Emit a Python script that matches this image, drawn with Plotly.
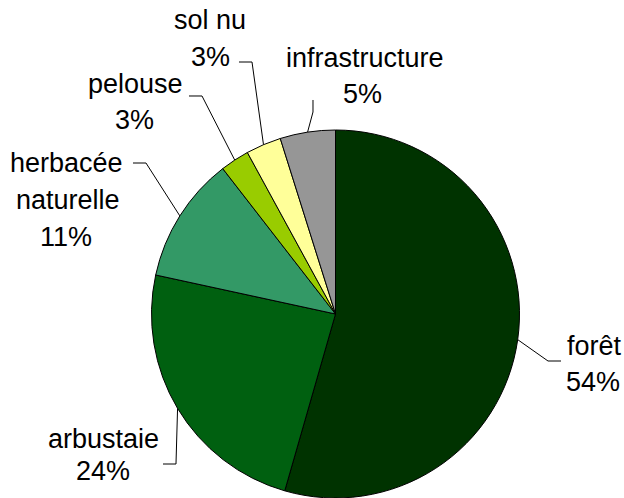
import math
import plotly.graph_objects as go

# ---- data ----
categories = ["forêt", "arbustaie", "herbacée naturelle", "pelouse", "sol nu", "infrastructure"]
values = [54.45, 23.95, 11.1, 2.55, 3.1, 4.85]
colors = ["#003300", "#006010", "#339966", "#99CC00", "#FFFF99", "#969696"]
label_lines = [["forêt"], ["arbustaie"], ["herbacée", "naturelle"], ["pelouse"], ["sol nu"], ["infrastructure"]]

W, H = 624, 498
# pie geometry in window pixels
cx, cy, R = 335.5, 314.0, 184.0

# label layout (pixel positions of text line centres) and leader elbows
label_pos = {
    "forêt": [(594, 346), (593, 382)],
    "arbustaie": [(103, 439), (103, 471)],
    "herbacée naturelle": [(66, 163), (68, 200), (66, 237)],
    "pelouse": [(135, 84), (134, 120)],
    "sol nu": [(210, 20), (210, 57)],
    "infrastructure": [(365, 58), (362, 94)],
}
elbows = {
    "forêt": [(561, 361), (548, 361)],
    "arbustaie": [(163, 464), (176, 464)],
    "herbacée naturelle": [(133, 163), (146, 163)],
    "pelouse": [(189, 96), (202, 96)],
    "sol nu": [(239, 62), (252, 62)],
    "infrastructure": [(313, 100), (313, 112)],
}

def px(x):
    return x / W

def py(y):
    return 1 - y / H

fig = go.Figure(go.Pie(
    labels=categories,
    values=values,
    sort=False,
    direction="clockwise",
    rotation=0,
    marker=dict(colors=colors, line=dict(color="black", width=1)),
    textinfo="none",
    hoverinfo="label+percent",
    showlegend=False,
    domain=dict(x=[px(cx - R), px(cx + R)], y=[0, (2 * R) / H]),
))

total = sum(values)
cum = 0.0
annotations = []
shapes = []
for cat, v, lines in zip(categories, values, label_lines):
    mid = (cum + v / 2) / total * 2 * math.pi
    cum += v
    ax_ = cx + R * math.sin(mid)
    ay_ = cy - R * math.cos(mid)
    pts = elbows[cat] + [(ax_, ay_)]
    path = "M " + " L ".join(f"{px(x):.5f},{py(y):.5f}" for x, y in pts)
    shapes.append(dict(type="path", xref="paper", yref="paper", path=path,
                       line=dict(color="black", width=1)))
    pct = f"{math.floor(v / total * 100 + 0.5)}%"
    texts = lines + [pct]
    for t, (x, y) in zip(texts, label_pos[cat]):
        annotations.append(dict(text=t, x=px(x), y=py(y), xref="paper", yref="paper",
                                xanchor="center", yanchor="middle", showarrow=False,
                                font=dict(family="Arial, Liberation Sans, sans-serif", size=27, color="black")))

fig.update_layout(
    width=W, height=H,
    margin=dict(l=0, r=0, t=0, b=0),
    paper_bgcolor="white",
    plot_bgcolor="white",
    annotations=annotations,
    shapes=shapes,
)

fig.write_html(
    "out.html",
    config={"displayModeBar": False},
    post_script="document.body.style.margin='0';document.body.style.overflow='hidden';",
)
